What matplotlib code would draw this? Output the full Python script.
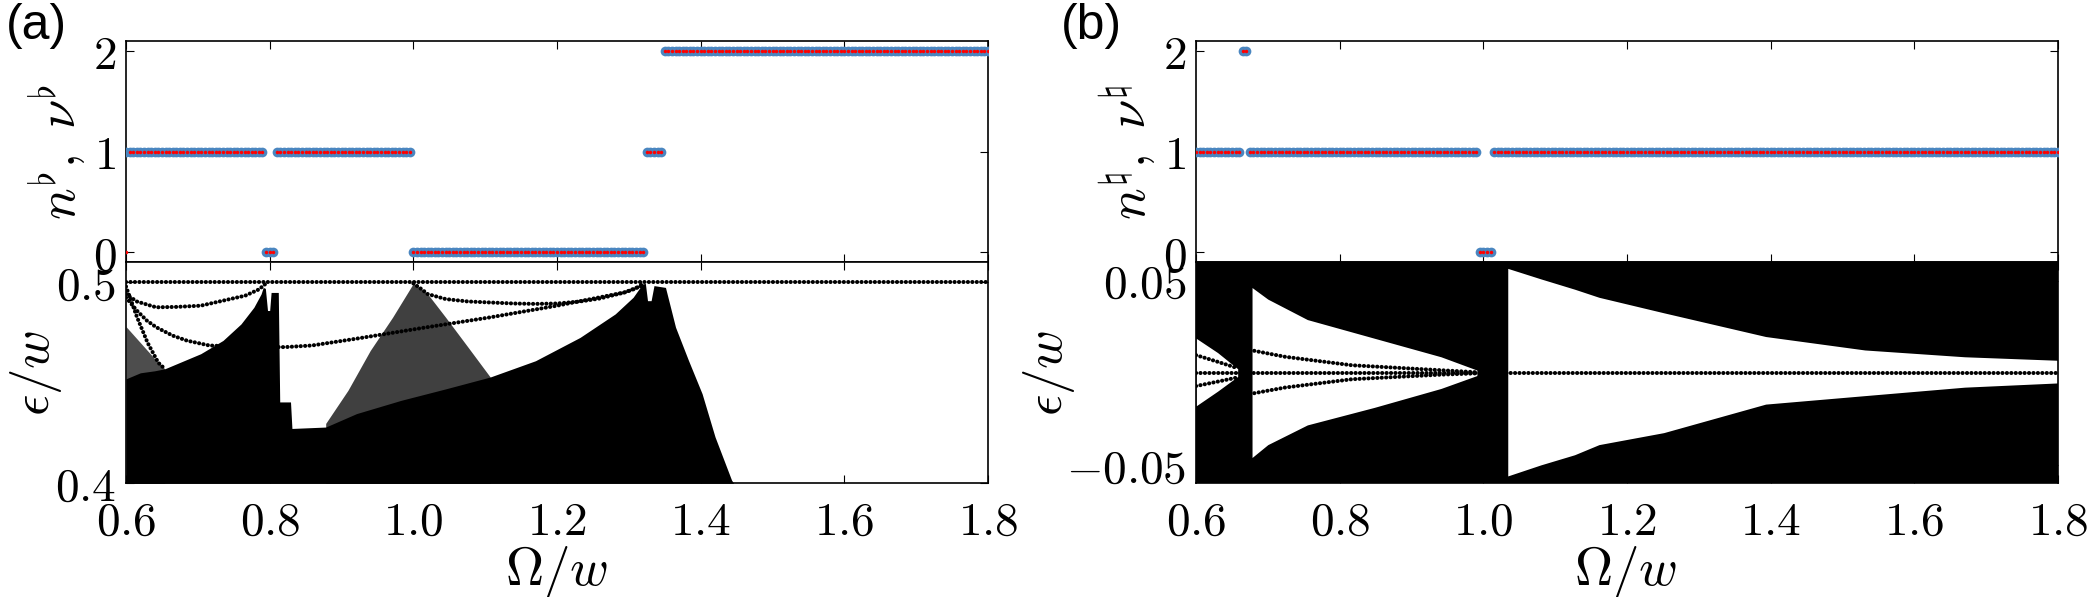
import numpy as np
import matplotlib
matplotlib.use('Agg')
from matplotlib import pyplot as plt

plt.rcParams['mathtext.fontset'] = 'cm'

# ---- invariants (top panels), sampled on the Omega grid ----
omega_step = 0.005
omega_grid = np.round(np.arange(0.6, 1.8 + 1e-9, omega_step), 3)

# (start, end, value) runs along Omega/w
n_a_runs = [(0.600, 0.790, 1), (0.795, 0.805, 0), (0.810, 0.995, 1),
            (1.000, 1.320, 0), (1.325, 1.345, 1), (1.350, 1.800, 2)]
nu_a_runs = [(0.600, 0.600, 0), (0.605, 0.790, 1), (0.795, 0.805, 0),
             (0.810, 0.995, 1), (1.000, 1.320, 0), (1.325, 1.345, 1),
             (1.350, 1.800, 2)]
n_b_runs = [(0.600, 0.660, 1), (0.665, 0.670, 2), (0.675, 0.990, 1),
            (0.995, 1.010, 0), (1.015, 1.800, 1)]
nu_b_runs = n_b_runs

# ---- quasienergy spectrum (a): top edge of bulk bands ----
omega_band_a = [0.600, 0.620, 0.640, 0.654, 0.704, 0.735, 0.760, 0.778, 0.788,
                0.791, 0.794, 0.797, 0.800, 0.802, 0.812, 0.814, 0.829, 0.831,
                0.878, 0.921, 0.983, 1.045, 1.107, 1.170, 1.232, 1.281, 1.306,
                1.319, 1.323, 1.326, 1.331, 1.335, 1.351, 1.365, 1.383, 1.402,
                1.420, 1.443, 1.446]
eps_band_a = [0.452, 0.455, 0.456, 0.457, 0.4645, 0.4711, 0.4793, 0.4876, 0.4942,
              0.4975, 0.497, 0.486, 0.486, 0.495, 0.495, 0.4405, 0.4405, 0.4273,
              0.428, 0.4347, 0.4413, 0.447, 0.4529, 0.461, 0.4726, 0.4843, 0.4926,
              0.4992, 0.4995, 0.4909, 0.4909, 0.4984, 0.4975, 0.4777, 0.4612, 0.4446,
              0.4231, 0.4016, 0.400]
# sparse fans of levels (drawn grey): around Omega = w and at the left edge
omega_fan_a = [0.878, 0.909, 0.940, 0.971, 1.000, 1.020, 1.045, 1.076, 1.107]
eps_fan_a = [0.4298, 0.4463, 0.4661, 0.4826, 0.4995, 0.4942, 0.4826, 0.4678, 0.4529]
omega_fan_left_a = [0.600, 0.605, 0.615, 0.630, 0.645, 0.654]
eps_fan_left_a = [0.478, 0.476, 0.472, 0.466, 0.460, 0.457]

# isolated (edge) levels in (a)
edge_a = [
    ([0.600, 1.800], [0.500, 0.500]),
    ([0.600, 0.615, 0.642, 0.670, 0.704, 0.735, 0.766, 0.785, 0.795],
     [0.4942, 0.4905, 0.4876, 0.4878, 0.4884, 0.4909, 0.4934, 0.4965, 0.4995]),
    ([0.600, 0.615, 0.629, 0.642, 0.665, 0.685, 0.716, 0.766, 0.822, 0.859, 0.921,
      1.014, 1.107, 1.200, 1.294, 1.319],
     [0.4925, 0.4860, 0.4810, 0.4777, 0.4735, 0.4710, 0.4686, 0.4678, 0.4678,
      0.4686, 0.4720, 0.4774, 0.4826, 0.4884, 0.4950, 0.4985]),
    ([1.000, 1.010, 1.020, 1.045, 1.076, 1.107, 1.140, 1.170, 1.200, 1.232, 1.260,
      1.294, 1.310, 1.320],
     [0.4995, 0.4970, 0.4942, 0.4917, 0.4905, 0.4900, 0.4895, 0.4893, 0.4895,
      0.4905, 0.4920, 0.4950, 0.4970, 0.4995]),
    ([0.600, 0.615, 0.630, 0.645, 0.654],
     [0.4980, 0.4830, 0.4700, 0.4600, 0.4570]),
]

# ---- quasienergy spectrum (b): bulk fills the window, gaps listed ----
omega_window_b = [0.6, 1.8]
gaps_b = [
    ([0.600, 0.630, 0.658],
     [-0.0180, -0.0100, -0.0020],
     [0.0188, 0.0110, 0.0022]),
    ([0.678, 0.700, 0.755, 0.848, 0.941, 0.991],
     [-0.0460, -0.0390, -0.0283, -0.0188, -0.0085, -0.0015],
     [0.0463, 0.0400, 0.0289, 0.0188, 0.0087, 0.0015]),
    ([1.034, 1.080, 1.127, 1.161, 1.251, 1.393, 1.531, 1.670, 1.800],
     [-0.0560, -0.0500, -0.0445, -0.0390, -0.0325, -0.0170, -0.0124, -0.0078, -0.0055],
     [0.0567, 0.0510, 0.0454, 0.0410, 0.0326, 0.0197, 0.0124, 0.0087, 0.0068]),
]
edge_b = [
    ([0.600, 1.800], [0.0, 0.0]),
    ([0.600, 0.630, 0.658], [0.0096, 0.0060, 0.0025]),
    ([0.600, 0.630, 0.658], [-0.0072, -0.0048, -0.0025]),
    ([0.675, 0.724, 0.817, 0.941, 0.991], [0.0124, 0.0087, 0.0041, 0.0014, 0.0003]),
    ([0.675, 0.724, 0.817, 0.941, 0.991], [-0.0115, -0.0080, -0.0035, -0.0010, -0.0003]),
]

x_ticks = [0.6, 0.8, 1.0, 1.2, 1.4, 1.6, 1.8]
x_ticklabels = [r'$0.6$', r'$0.8$', r'$1.0$', r'$1.2$', r'$1.4$', r'$1.6$', r'$1.8$']

blue = '#4a86c0'
W, H = 2100, 597
fig = plt.figure(figsize=(W / 100, H / 100), dpi=100)


def runs_to_points(runs):
    xs, ys = [], []
    for a, b, v in runs:
        sel = omega_grid[(omega_grid >= a - 1e-9) & (omega_grid <= b + 1e-9)]
        xs.extend(sel)
        ys.extend([v] * len(sel))
    return xs, ys


def style(ax):
    ax.set_xlim(0.6, 1.8)
    ax.set_xticks(x_ticks)
    ax.tick_params(direction='in', top=True, right=True, length=5.8, width=0.8,
                   labelsize=34)
    ax.tick_params(axis='x', pad=12)
    ax.tick_params(axis='y', pad=7)
    for s in ax.spines.values():
        s.set_linewidth(1.2)


def dotted(ax, x, y):
    ax.plot(x, y, color='black', lw=2.9, linestyle=(0, (0.05, 1.05)),
            dash_capstyle='round', zorder=4)


def px_box(left, top, right, bottom):
    return [left / W, 1 - bottom / H, (right - left) / W, (bottom - top) / H]


for left, n_runs, nu_runs, sym in [(126, n_a_runs, nu_a_runs, r'\flat'),
                                   (1196, n_b_runs, nu_b_runs, r'\natural')]:
    ax = fig.add_axes(px_box(left, 41, left + 862, 262.3))
    xn, yn = runs_to_points(n_runs)
    xv, yv = runs_to_points(nu_runs)
    ax.plot(xn, yn, 'o', color=blue, ms=7.0, mec='none', zorder=3)
    ax.plot(xv, yv, 'o', color='red', ms=2.5, mec='none', zorder=4)
    ax.set_ylim(-0.1, 2.1)
    style(ax)
    ax.set_yticks([0, 1, 2])
    ax.set_yticklabels([r'$0$', r'$1$', r'$2$'])
    ax.set_xticklabels([])
    fig.text((left - 69) / W, 1 - 152 / H, r'$n^%s,\ \nu^%s$' % (sym, sym),
             rotation=90, ha='center', va='center', fontsize=38)

# (a) lower panel
ax = fig.add_axes(px_box(126, 262.3, 988, 483.3))
ax.fill_between(omega_fan_a, 0.4, eps_fan_a, color='0.25', lw=0, zorder=1)
ax.fill_between(omega_fan_left_a, 0.4, eps_fan_left_a, color='0.3', lw=0, zorder=1)
ax.fill_between(omega_band_a, 0.4, eps_band_a, color='black', lw=0, zorder=2)
for x, y in edge_a:
    dotted(ax, x, y)
ax.set_ylim(0.4, 0.51)
style(ax)
ax.set_yticks([0.4, 0.5])
ax.set_yticklabels([r'$0.4$', r'$0.5$'])
ax.set_xticklabels(x_ticklabels)

# (b) lower panel
ax = fig.add_axes(px_box(1196, 262.3, 2058, 483.3))
ax.fill_between(omega_window_b, -0.06, 0.06, color='black', lw=0, zorder=1)
for x, lo, hi in gaps_b:
    ax.fill_between(x, lo, hi, color='white', lw=0, zorder=2)
for x, y in edge_b:
    dotted(ax, x, y)
ax.set_ylim(-0.06, 0.06)
style(ax)
ax.set_yticks([-0.05, 0.05])
ax.set_yticklabels([r'$-0.05$', r'$0.05$'])
ax.set_xticklabels(x_ticklabels)

for cx in (36, 1049):
    fig.text(cx / W, 1 - 372.5 / H, r'$\epsilon/w$', rotation=90,
             ha='center', va='center', fontsize=38)
for cx in (557, 1626):
    fig.text(cx / W, 1 - 572 / H, r'$\Omega/w$', ha='center', va='center',
             fontsize=38)

fig.text(6 / W, 1 - 39 / H, '(a)', family='Liberation Sans', fontsize=36,
         ha='left', va='baseline')
fig.text(1061 / W, 1 - 39 / H, '(b)', family='Liberation Sans', fontsize=36,
         ha='left', va='baseline')

fig.savefig('out.png', dpi=100)
